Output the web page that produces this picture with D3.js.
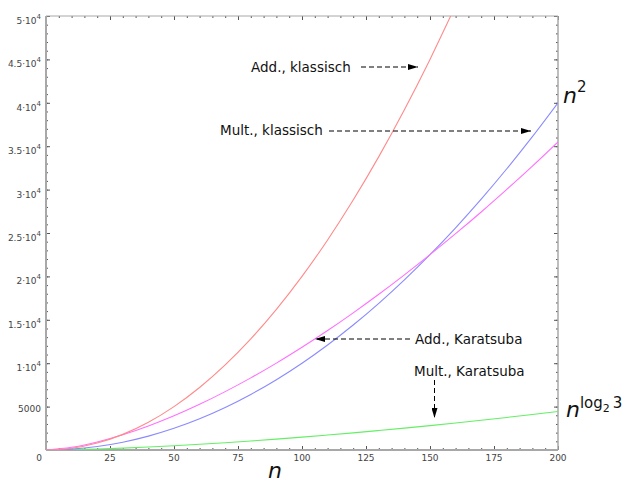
<!DOCTYPE html>
<html><head><meta charset="utf-8">
<script src="https://cdn.jsdelivr.net/npm/d3@7"></script>
<style>body{margin:0;background:#fff}svg{display:block}</style>
</head><body><svg id="c" width="635" height="483"></svg>
<script>
// ---- data ----
const nValues = [0,10,20,30,40,50,60,70,80,90,100,110,120,130,140,150,160,170,180,190,200];
const addKlassisch = [0,200,800,1800,3200,5000,7200,9800,12800,16200,20000,24200,28800,33800,39200,45000,51200];
const multKlassisch = [0,100,400,900,1600,2500,3600,4900,6400,8100,10000,12100,14400,16900,19600,22500,25600,28900,32400,36100,40000];
const addKaratsuba = [0,308,923,1755,2770,3942,5264,6725,8310,10008,11832,13760,15800,17936,20176,22504,24920,27424,30024,32704,35496];
const multKaratsuba = [0,38,115,219,346,493,658,841,1039,1251,1479,1720,1975,2242,2522,2813,3115,3428,3753,4088,4437];
const xTickValues = [0,25,50,75,100,125,150,175,200];
const xTickLabels = ["0","25","50","75","100","125","150","175","200"];
const yTickValues = [5000,10000,15000,20000,25000,30000,35000,40000,45000,50000];
const yTickLabels = ["5000","1·10^4","1.5·10^4","2·10^4","2.5·10^4","3·10^4","3.5·10^4","4·10^4","4.5·10^4","5·10^4"];
const seriesNames = ["Add., klassisch","Mult., klassisch","Add., Karatsuba","Mult., Karatsuba"];
const seriesColors = ["#ff8a8a","#8a8aff","#ff70ff","#66ee66"];

const svg = d3.select("#c");
const x = d3.scaleLinear().domain([0,200]).range([46,558]);
const y = d3.scaleLinear().domain([0,50000]).range([450,16]);

const defs = svg.append("defs");
defs.append("clipPath").attr("id","clip").append("rect")
  .attr("x",x(0)).attr("y",y(50000)).attr("width",x(200)-x(0)).attr("height",y(0)-y(50000));
defs.append("marker").attr("id","ah").attr("viewBox","0 0 10 6").attr("refX",10).attr("refY",3)
  .attr("markerWidth",10).attr("markerHeight",6).attr("markerUnits","userSpaceOnUse").attr("orient","auto")
  .append("path").attr("d","M0,0L10,3L0,6Z").attr("fill","#000");

// ---- ticks via d3 axes ----
function styleAxis(g){ g.select(".domain").remove(); g.selectAll("line").attr("stroke","#555").attr("stroke-width",1); }
const minorX = d3.range(0,201,5), minorY = d3.range(0,50001,1000);
svg.append("g").attr("transform",`translate(0,${y(0)})`).call(d3.axisBottom(x).tickValues(minorX).tickSize(-2).tickFormat("")).call(styleAxis);
svg.append("g").attr("transform",`translate(0,${y(0)})`).call(d3.axisBottom(x).tickValues(xTickValues).tickSize(-4).tickFormat("")).call(styleAxis);
svg.append("g").attr("transform",`translate(0,${y(50000)})`).call(d3.axisTop(x).tickValues(minorX).tickSize(-2).tickFormat("")).call(styleAxis);
svg.append("g").attr("transform",`translate(0,${y(50000)})`).call(d3.axisTop(x).tickValues(xTickValues).tickSize(-4).tickFormat("")).call(styleAxis);
svg.append("g").attr("transform",`translate(${x(0)},0)`).call(d3.axisLeft(y).tickValues(minorY).tickSize(-2).tickFormat("")).call(styleAxis);
svg.append("g").attr("transform",`translate(${x(0)},0)`).call(d3.axisLeft(y).tickValues(yTickValues).tickSize(-4).tickFormat("")).call(styleAxis);
svg.append("g").attr("transform",`translate(${x(200)},0)`).call(d3.axisRight(y).tickValues(minorY).tickSize(-2).tickFormat("")).call(styleAxis);
svg.append("g").attr("transform",`translate(${x(200)},0)`).call(d3.axisRight(y).tickValues(yTickValues).tickSize(-4).tickFormat("")).call(styleAxis);

// frame
svg.append("line").attr("x1",x(0)).attr("x2",x(200)).attr("y1",y(50000)).attr("y2",y(50000)).attr("stroke","#a8a8a8").attr("stroke-width",1);
svg.append("line").attr("x1",x(200)).attr("x2",x(200)).attr("y1",y(0)).attr("y2",y(50000)).attr("stroke","#a8a8a8").attr("stroke-width",1.5);
svg.append("line").attr("x1",x(0)).attr("x2",x(200)).attr("y1",y(0)).attr("y2",y(0)).attr("stroke","#a8a8a8").attr("stroke-width",2);
svg.append("line").attr("x1",x(0)).attr("x2",x(0)).attr("y1",y(0)).attr("y2",y(50000)).attr("stroke","#a8a8a8").attr("stroke-width",2);

// tick labels
const lf = "'DejaVu Sans', Verdana, sans-serif";
svg.append("g").selectAll("text").data(xTickValues).join("text")
  .attr("x",(d,i)=> i===0 ? x(d)-7 : x(d)).attr("y",461).attr("text-anchor","middle")
  .attr("font-family",lf).attr("font-size",9).attr("fill","#444")
  .text((d,i)=>xTickLabels[i]);
const yl = svg.append("g").selectAll("text").data(yTickValues).join("text")
  .attr("x",41).attr("text-anchor","end").attr("font-family",lf).attr("font-size",9).attr("fill","#444")
  .attr("y",(d,i)=> y(d) + (yTickLabels[i].includes("^") ? 8 : 5));
yl.each(function(d,i){
  const parts = yTickLabels[i].split("^");
  const t = d3.select(this);
  t.append("tspan").text(parts[0]);
  if(parts[1]) t.append("tspan").attr("dy",-5).attr("font-size",7).text(parts[1]);
});

// curves
const series = [addKlassisch, multKlassisch, addKaratsuba, multKaratsuba];
const line = d3.line().x(d=>x(d[0])).y(d=>y(d[1])).curve(d3.curveCatmullRom);
const order = [3,1,2,0];
order.forEach(k=>{
  const pts = series[k].map((v,i)=>[nValues[i],v]);
  svg.append("path").attr("d",line(pts)).attr("fill","none").attr("stroke",seriesColors[k])
    .attr("stroke-width",1.1).attr("clip-path","url(#clip)");
});

// annotations
const af = "'DejaVu Sans', Verdana, sans-serif";
function label(txt,xx,yy){ svg.append("text").attr("x",xx).attr("y",yy).attr("font-family",af).attr("font-size",13.5).attr("fill","#111").text(txt); }
function arrow(x1,y1,x2,y2){ svg.append("line").attr("x1",x1).attr("y1",y1).attr("x2",x2).attr("y2",y2)
  .attr("stroke","#000").attr("stroke-width",1).attr("stroke-dasharray","5,3").attr("marker-end","url(#ah)"); }
label(seriesNames[0],251,72); arrow(361,67,418,67);
label(seriesNames[1],220,135); arrow(329,131,531,131);
label(seriesNames[2],415,344); arrow(410,339,315,339);
label(seriesNames[3],414,376); arrow(434.5,380,434.5,418);

// math labels
const mf = "'DejaVu Sans', sans-serif";
svg.append("text").attr("x",268).attr("y",478).attr("font-family",mf).attr("font-style","italic").attr("font-size",22).attr("fill","#111").text("n");
const n2 = svg.append("text").attr("x",563).attr("y",103).attr("font-family",mf).attr("font-size",22).attr("fill","#111");
n2.append("tspan").attr("font-style","italic").text("n");
n2.append("tspan").attr("dy",-11).attr("font-size",15).text("2");
const nl = svg.append("text").attr("x",566).attr("y",417).attr("font-family",mf).attr("font-size",22).attr("fill","#111");
nl.append("tspan").attr("font-style","italic").text("n");
nl.append("tspan").attr("dy",-9).attr("font-size",15).text("log");
nl.append("tspan").attr("dy",4).attr("font-size",11).text("2");
nl.append("tspan").attr("dy",-4).attr("dx",3).attr("font-size",15).text("3");
</script></body></html>
